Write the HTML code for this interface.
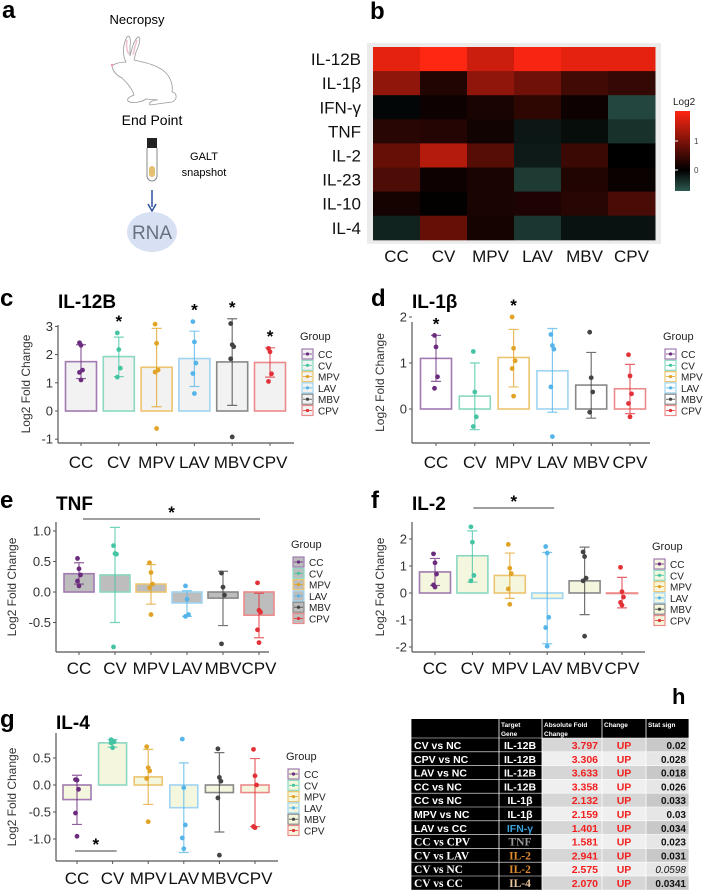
<!DOCTYPE html>
<html><head><meta charset="utf-8"><style>
html,body{margin:0;padding:0;background:#fff;}
svg{display:block;font-family:"Liberation Sans",sans-serif;}
</style></head><body>
<svg id="fig" width="703" height="892" viewBox="0 0 703 892" xmlns="http://www.w3.org/2000/svg">
<!-- Panel a -->
<g>
<text x="2" y="18" font-size="24" font-weight="bold">a</text>
<text x="137" y="24" font-size="13" text-anchor="middle">Necropsy</text>
<path fill="#fff" stroke="#999" stroke-width="0.8" d="M126,62 C122,55 123,44 127,37 C130,34 131,40 130,46 L130,56 C132,48 134,40 138,37 C141,36 140,44 136,52 L134,60 C142,62 156,64 165,72 C171,78 173,85 172,92 C177,92 178,100 172,102 L150,105 C148,103 152,100 158,100 L146,99 C142,102 132,104 128,101 C126,98 132,96 134,95 C132,88 126,82 122,78 C118,76 113,72 112,66 C114,64 119,62 126,62 Z"/>
<path d="M127,40 C126,46 127,52 129,54 M137,40 C135,46 134,50 133,55" stroke="#f0c0d0" stroke-width="1.5" fill="none"/>
<circle cx="112" cy="65" r="1.2" fill="#f090b0"/>
<text x="152" y="125" font-size="14" text-anchor="middle">End Point</text>
<rect x="147" y="138" width="10" height="10" fill="#222"/>
<path d="M147,148 L147,176 A5,5 0 0 0 157,176 L157,148" fill="#fff" stroke="#888"/>
<rect x="149" y="166" width="6" height="11" rx="3" fill="#e6c070"/>
<text x="204" y="160" font-size="11" text-anchor="middle">GALT</text>
<text x="204" y="176" font-size="11" text-anchor="middle">snapshot</text>
<line x1="152" y1="190" x2="152" y2="207" stroke="#2f4f9f" stroke-width="1.5"/>
<path d="M148,204 L152,211 L156,204" fill="none" stroke="#2f4f9f" stroke-width="1.5"/>
<ellipse cx="152" cy="232" rx="25" ry="20" fill="#d7e1f3"/>
<text x="152" y="239" font-size="19" text-anchor="middle" fill="#6a7080">RNA</text>
</g>
<text x="370" y="19" font-size="24" font-weight="bold">b</text>
<g id="heat"></g>
<g id="panels"></g>
<text x="672" y="704" font-size="22" font-weight="bold">h</text>
<g id="table"></g>
</svg>
<script>
const NS="http://www.w3.org/2000/svg";
const groups=["CC","CV","MPV","LAV","MBV","CPV"];
const genes=["IL-12B","IL-1β","IFN-γ","TNF","IL-2","IL-23","IL-10","IL-4"];
const heatIL12B=[1.75,1.95,1.55,1.9,1.75,1.75];
const heatIL1b=[1.1,0.25,1.1,0.85,0.5,0.4];
const heatIFNg=[-0.05,0.1,0.2,0.35,0.1,-0.55];
const heatTNF=[0.3,0.28,0.13,-0.18,-0.1,-0.38];
const heatIL2=[0.78,1.38,0.65,-0.2,0.45,0.0];
const heatIL23=[0.6,0.1,0.2,-0.45,0.25,0.08];
const heatIL10=[0.15,0.02,0.2,0.22,0.3,0.55];
const heatIL4=[-0.27,0.78,0.15,-0.42,-0.14,-0.14];
const legendTicks=[0,1];

// panel c IL-12B
const cMeans=[1.75,1.93,1.55,1.86,1.74,1.72];
const cLo=[1.15,1.22,0.15,0.87,0.2,1.2];
const cHi=[2.35,2.62,2.93,2.83,3.27,2.24];
const cPts=[[2.42,2.33,1.45,1.37,1.1],[2.77,2.18,1.52,1.2],[3.08,2.4,1.45,1.38,-0.62],[3.17,2.45,1.7,1.33,0.62],[3.1,2.35,2.28,1.85,-0.92],[2.22,2.1,1.32,1.05]];
const cStars=["CV","LAV","MBV","CPV"];
const cTicks=[-1,0,1,2,3];
// panel d IL-1b
const dMeans=[1.1,0.28,1.12,0.83,0.52,0.44];
const dLo=[0.6,-0.45,0.48,-0.07,-0.2,-0.1];
const dHi=[1.6,1.0,1.73,1.75,1.23,0.97];
const dPts=[[1.6,1.35,0.7,0.45],[1.25,0.37,-0.17,-0.38],[2.0,1.32,1.05,0.88,0.28],[1.62,1.38,1.3,0.48,-0.6],[1.67,0.68,0.37,-0.07],[1.18,0.72,0.33,0.12,-0.17]];
const dStars=["CC","MPV"];
const dTicks=[0,1,2];
// panel e TNF
const eMeans=[0.3,0.28,0.13,-0.18,-0.1,-0.38];
const eLo=[0.13,-0.5,-0.2,-0.4,-0.55,-0.75];
const eHi=[0.48,1.06,0.45,0.02,0.34,-0.02];
const ePts=[[0.55,0.38,0.28,0.18,0.1],[0.76,0.63,0.62,-0.9],[0.48,0.32,0.13,0.07,-0.37],[0.1,-0.12,-0.37,-0.4],[0.31,0.08,-0.05,-0.85],[0.15,-0.3,-0.33,-0.62,-0.83]];
const eTicks=[-0.5,0,0.5,1.0];
// panel f IL-2
const fMeans=[0.78,1.38,0.65,-0.2,0.45,0.0];
const fLo=[0.28,0.4,-0.2,-1.88,-0.8,-0.55];
const fHi=[1.28,2.3,1.48,1.5,1.7,0.58];
const fPts=[[1.45,1.12,0.7,0.3,0.22],[2.45,1.88,0.65,0.45],[1.8,0.92,0.72,0.15,-0.42],[1.72,1.48,-0.9,-1.28,-1.97],[1.52,1.35,0.55,0.45,-1.6],[0.95,0.05,-0.15,-0.35,-0.45]];
const fTicks=[-2,-1,0,1,2];
// panel g IL-4
const gMeans=[-0.27,0.78,0.15,-0.42,-0.14,-0.14];
const gLo=[-0.73,0.7,-0.36,-1.25,-0.87,-0.77];
const gHi=[0.18,0.84,0.66,0.41,0.6,0.49];
const gPts=[[0.1,0.09,-0.08,-0.52,-0.95],[0.84,0.82,0.8,0.78,0.69],[0.71,0.32,0.26,0.12,-0.68],[0.85,-0.05,-0.74,-0.98,-1.18],[0.67,0.14,0.07,-0.24,-1.3],[0.66,0.17,0.0,-0.77,-0.79]];
const gTicks=[-1.0,-0.5,0,0.5];

const colors=["#6b2c7e","#45c4a4","#e0a325","#55b5ea","#444444","#e23237"];
const outline=["#a07ab0","#8ad8c2","#ecc470","#9fd4f2","#888888","#ec8a8a"];

function el(tag,attrs,parent,txt){const e=document.createElementNS(NS,tag);for(const k in attrs)e.setAttribute(k,attrs[k]);if(txt!==undefined)e.textContent=txt;parent.appendChild(e);return e;}

// ---- heatmap
const heat=document.getElementById('heat');
const heatRows=[heatIL12B,heatIL1b,heatIFNg,heatTNF,heatIL2,heatIL23,heatIL10,heatIL4];
const hx0=373,hy0=47,hcw=47,hch=24.1;
function hcol(v){if(v>=0){const t=Math.min(v/1.95,1);return `rgb(${Math.round(255*t)},${Math.round(38*t)},${Math.round(18*t)})`;}const t=Math.min(-v/0.7,1);return `rgb(${Math.round(45*t)},${Math.round(90*t)},${Math.round(80*t)})`;}
const hbg=el('rect',{x:hx0-6,y:hy0-4,width:hcw*6+12,height:hch*8+8,fill:"#ebebeb"},heat);


heatRows.forEach((row,r)=>{
  const lab=el('text',{x:hx0-12,y:hy0+hch*(r+0.5)+6,"font-size":17,"text-anchor":"end",fill:"#111"},heat,genes[r]);
  
  
  row.forEach((v,c)=>{
    const cell=el('rect',{x:hx0+c*hcw,y:hy0+r*hch,width:hcw+0.5,height:hch+0.5,fill:hcol(v)},heat);
    
    
  });
});
groups.forEach((g,c)=>{
  const t=el('text',{x:hx0+hcw*(c+0.5),y:262,"font-size":17,"text-anchor":"middle",fill:"#111"},heat,g);
  
  
});
const defs=el('defs',{},heat);
const lg=el('linearGradient',{id:"lg",x1:0,y1:1,x2:0,y2:0},defs);
el('stop',{offset:"0",'stop-color':hcol(-0.72)},lg);
el('stop',{offset:"0.26",'stop-color':"#000"},lg);
el('stop',{offset:"1",'stop-color':hcol(2.0)},lg);
const lt=el('text',{x:673,y:105,"font-size":10,fill:"#222"},heat,"Log2");


const lb=el('rect',{x:675,y:111,width:15,height:80,fill:"url(#lg)"},heat);


legendTicks.forEach(v=>{const y=170-29*v;
  const t=el('text',{x:694,y:y+3,"font-size":8,fill:"#444"},heat,String(v));
  
  
  el('line',{x1:675,x2:678,y1:y,y2:y,stroke:"#fff"},heat);
});

// ---- bar panels
const panels=document.getElementById('panels');
function panel(o){
  const g=el('g',{},panels);
  
  
  const y=v=>o.y0-v*o.unit;
  const x=i=>o.cx0+i*o.dx;
  const pl=el('text',{x:o.lx,y:o.ty,"font-size":24,"font-weight":"bold"},g,o.letter);
  
  
  const tt=el('text',{x:o.ax,y:o.ty+2,"font-size":19,"font-weight":"bold"},g,o.title);
  
  
  // axes
  el('line',{x1:o.ax,x2:o.ax,y1:o.top,y2:o.bot,stroke:"#555","stroke-width":1.2},g);
  el('line',{x1:o.ax,x2:o.ar,y1:o.bot,y2:o.bot,stroke:"#555","stroke-width":1.2},g);
  o.ticks.forEach(v=>{
    el('line',{x1:o.ax-3,x2:o.ax,y1:y(v),y2:y(v),stroke:"#555"},g);
    const t=el('text',{x:o.ax-5,y:y(v)+4.5,"font-size":13,"text-anchor":"end",fill:"#333"},g,o.fmt?v.toFixed(1):String(v));
    
    
  });
  const yl=el('text',{x:0,y:0,"font-size":12,"text-anchor":"middle",fill:"#333",transform:`translate(${o.ax-(o.fmt?40:28)},${(o.top+o.bot)/2}) rotate(-90)`},g,"Log2 Fold Change");
  
  
  groups.forEach((gname,i)=>{
    el('line',{x1:x(i),x2:x(i),y1:o.bot,y2:o.bot+3,stroke:"#555"},g);
    if(o.xlab){const t=el('text',{x:x(i),y:o.xly,"font-size":17,"text-anchor":"middle",fill:"#111"},g,gname);
      
      }
    const m=o.means[i];const bw=o.bw;
    const bar=el('rect',{x:x(i)-bw/2,y:Math.min(y(m),y(0)),width:bw,height:Math.max(Math.abs(y(m)-y(0)),0.5),fill:o.fill,stroke:outline[i],"stroke-width":1.6},g);
    
    
    const eb=el('path',{d:`M${x(i)},${y(o.lo[i])}V${y(o.hi[i])}M${x(i)-5},${y(o.lo[i])}H${x(i)+5}M${x(i)-5},${y(o.hi[i])}H${x(i)+5}`,stroke:colors[i],"stroke-opacity":0.75,"stroke-width":1.2,fill:"none"},g);
    
    
    o.pts[i].forEach((p,k)=>{
      const c=el('circle',{cx:x(i)+((k%3)-1)*1.5,cy:y(p),r:2.4,fill:colors[i]},g);
      
      
    });
    if(o.stars&&o.stars.includes(gname)){
      const top=Math.max(o.hi[i],...o.pts[i]);
      const s=el('text',{x:x(i),y:y(top)-6,"font-size":17,"font-weight":"bold","text-anchor":"middle"},g,"*");
      
      
    }
  });
  if(o.sig){
    el('line',{x1:x(o.sig[0])+o.sig[2],x2:x(o.sig[1])+o.sig[3],y1:o.sig[4],y2:o.sig[4],stroke:"#666","stroke-width":1.2},g);
    const s=el('text',{x:(x(o.sig[0])+o.sig[2]+x(o.sig[1])+o.sig[3])/2,y:o.sig[4]-1,"font-size":17,"font-weight":"bold","text-anchor":"middle"},g,"*");
    
    
  }
  // legend
  const gt=el('text',{x:o.lgx,y:o.lgy,"font-size":11,fill:"#222"},g,"Group");
  
  
  groups.forEach((gname,i)=>{
    const yy=o.lgy+9+i*11.3;
    const b=el('rect',{x:o.lgx+2,y:yy,width:11,height:10,fill:o.fill,stroke:outline[i],"stroke-width":1.2},g);
    
    
    el('line',{x1:o.lgx+3,x2:o.lgx+12,y1:yy+5,y2:yy+5,stroke:colors[i],"stroke-width":0.8},g);
    el('circle',{cx:o.lgx+7.5,cy:yy+5,r:1.6,fill:colors[i]},g);
    const t=el('text',{x:o.lgx+18,y:yy+9,"font-size":10,fill:"#222"},g,gname);
    
    
  });
}
panel({name:"panel-c-il12b",letter:"c",title:"IL-12B",lx:0,ty:306,ax:58,ar:294,top:325,bot:443,y0:411,unit:28.2,cx0:81,dx:37.8,bw:31,ticks:cTicks,means:cMeans,lo:cLo,hi:cHi,pts:cPts,stars:cStars,fill:"#f2f2f2",xlab:true,xly:468,lgx:300,lgy:340});
panel({name:"panel-d-il1b",letter:"d",title:"IL-1β",lx:371,ty:306,ax:412,ar:650,top:322,bot:443,y0:409,unit:46,cx0:436,dx:38.8,bw:31,ticks:dTicks,means:dMeans,lo:dLo,hi:dHi,pts:dPts,stars:dStars,fill:"#ffffff",xlab:true,xly:468,lgx:663,lgy:340});
panel({name:"panel-e-tnf",letter:"e",title:"TNF",lx:0,ty:508,ax:56,ar:269,top:522,bot:652,y0:592,unit:61,cx0:79,dx:36,bw:30,ticks:eTicks,means:eMeans,lo:eLo,hi:eHi,pts:ePts,fill:"#bdbdbd",fmt:true,xlab:true,xly:674,lgx:291,lgy:548,sig:[0,5,4,1,519]});
panel({name:"panel-f-il2",letter:"f",title:"IL-2",lx:371,ty:508,ax:412,ar:645,top:522,bot:652,y0:593,unit:27,cx0:435,dx:37.4,bw:31,ticks:fTicks,means:fMeans,lo:fLo,hi:fHi,pts:fPts,fill:"#f4f7dd",xlab:true,xly:674,lgx:652,lgy:550,sig:[1,3,1,7,508]});
panel({name:"panel-g-il4",letter:"g",title:"IL-4",lx:0,ty:727,ax:56,ar:278,top:733,bot:861,y0:785,unit:54,cx0:77,dx:35.6,bw:28,ticks:gTicks,means:gMeans,lo:gLo,hi:gHi,pts:gPts,fill:"#f4f7dd",fmt:true,xlab:true,xly:884,lgx:286,lgy:760,sig:[0,1,-2,4,851]});

// ---- table
const tbl=document.getElementById('table');
const rowsCmp=["CV vs NC","CPV vs NC","LAV vs NC","CC vs NC","CC vs NC","MPV vs NC","LAV vs CC","CC vs CPV","CV vs LAV","CV vs NC","CV vs CC"];
const rowsGene=["IL-12B","IL-12B","IL-12B","IL-12B","IL-1β","IL-1β","IFN-γ","TNF","IL-2","IL-2","IL-4"];
const rowsFold=["3.797","3.306","3.633","3.358","2.132","2.159","1.401","1.581","2.941","2.575","2.070"];
const rowsStat=["0.02","0.028","0.018","0.026","0.033","0.03","0.034","0.023","0.031","0.0598","0.0341"];
const cols=[411,499,542,602,646,689];
const ty0=719,th=19,rh=13.8;
const tb=el('rect',{x:411,y:ty0,width:278,height:th,fill:"#000"},tbl);


[["Target",501,ty0+8],["Gene",501,ty0+17],["Absolute Fold",544,ty0+8],["Change",544,ty0+17],["Change",604,ty0+8],["Stat sign",648,ty0+8]].forEach(h=>{
  const t=el('text',{x:h[1],y:h[2],"font-size":6.5,"font-weight":"bold",fill:"#fff"},tbl,h[0]);
  
  
});
rowsCmp.forEach((c,i)=>{
  const y=ty0+th+i*rh;
  const serif=i>=7;
  el('rect',{x:411,y:y,width:131,height:rh,fill:"#000"},tbl);
  el('rect',{x:542,y:y,width:104,height:rh,fill:i%2?"#efefef":"#d6d6d6"},tbl);
  el('rect',{x:646,y:y,width:43,height:rh,fill:i%2?"#e6e6e6":"#c8c8c8"},tbl);
  el('line',{x1:411,x2:689,y1:y,y2:y,stroke:"#fff","stroke-width":0.6},tbl);
  const ff=serif?'"Liberation Serif",serif':'"Liberation Sans",sans-serif';
  const t1=el('text',{x:414,y:y+11,"font-size":serif?11.5:10.5,"font-weight":"bold",fill:"#fff","font-family":ff},tbl,c);
  
  
  const gc=i<6?"#fff":(i==6?"#3aa0d8":(i==7?"#999":(i==10?"#e8c8a0":"#e08a30")));
  const t2=el('text',{x:520,y:y+11,"font-size":serif?11.5:10.5,"font-weight":"bold","text-anchor":"middle",fill:gc,"font-family":ff},tbl,rowsGene[i]);
  
  
  const t3=el('text',{x:598,y:y+11,"font-size":10.5,"font-weight":"bold","text-anchor":"end",fill:"#f21f1f"},tbl,rowsFold[i]);
  
  
  const t4=el('text',{x:624,y:y+11,"font-size":10.5,"font-weight":"bold","text-anchor":"middle",fill:"#f21f1f"},tbl,"UP");
  
  
  const t5=el('text',{x:686,y:y+11,"font-size":10,"font-weight":i==9?"normal":"bold","font-style":i==9?"italic":"normal","text-anchor":"end",fill:"#111"},tbl,rowsStat[i]);
  
  
});
cols.forEach(cx=>el('line',{x1:cx,x2:cx,y1:ty0,y2:ty0+th+11*rh,stroke:"#fff","stroke-width":0.8},tbl));
</script>
</body></html>
